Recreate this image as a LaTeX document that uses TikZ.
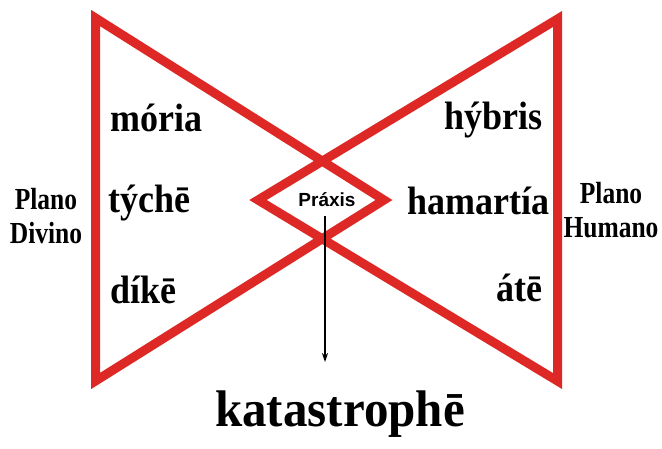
\documentclass[tikz,border=0pt]{standalone}
\usepackage{fontspec}
\usetikzlibrary{arrows.meta}
\setmainfont{Liberation Serif}
\setsansfont{Liberation Sans}
\definecolor{tri}{RGB}{221,40,38}
\begin{document}
\begin{tikzpicture}[x=1pt,y=-1pt,
  tribox/.style={draw=tri,line width=9pt,line join=miter,miter limit=10},
  word/.style={inner sep=0pt,yscale=1.1,font=\bfseries\fontsize{36}{40}\selectfont},
  plane/.style={inner sep=0pt,align=center,yscale=1.2,font=\bfseries\fontsize{25.5}{28}\selectfont},
]
\useasboundingbox (0,0) rectangle (662,448);
% triangles
\coordinate (L1) at (95.5,18);
\coordinate (L2) at (95.5,381);
\coordinate (LT) at (384,200);
\coordinate (R1) at (557.5,19);
\coordinate (R2) at (557.5,381);
\coordinate (RT) at (258,200);
\draw[tribox] (L1) -- (L2) -- (LT) -- cycle;
\draw[tribox] (R1) -- (R2) -- (RT) -- cycle;
% words
\node[word,anchor=base west] (moria) at (110,131) {mória};
\node[word,anchor=base west] (tyche) at (108,212) {týchē};
\node[word,anchor=base west] (dike) at (110,303) {díkē};
\node[word,anchor=base east] (hybris) at (543,129) {hýbris};
\node[word,anchor=base east] (hamartia) at (550,214) {hamartía};
\node[word,anchor=base east] (ate) at (543,301) {átē};
% planes
\node[plane,anchor=north] (divino) at (46,188) {Plano\\Divino};
\node[plane,anchor=north] (humano) at (611,182) {Plano\\Humano};
% praxis
\node[inner sep=0pt,anchor=base,font=\sffamily\bfseries\fontsize{19}{22}\selectfont] (praxis) at (327,206) {Práxis};
% katastrophe
\node[inner sep=0pt,anchor=base,yscale=1.05,font=\bfseries\fontsize{49}{55}\selectfont] (kat) at (340,426) {katastrophē};
\coordinate (arrend) at (325,362);
\draw[line width=1.2pt,-{Stealth[length=9pt,width=6pt]}] ([xshift=-2pt,yshift=-10pt]praxis.south) -- (arrend);
\end{tikzpicture}
\end{document}
